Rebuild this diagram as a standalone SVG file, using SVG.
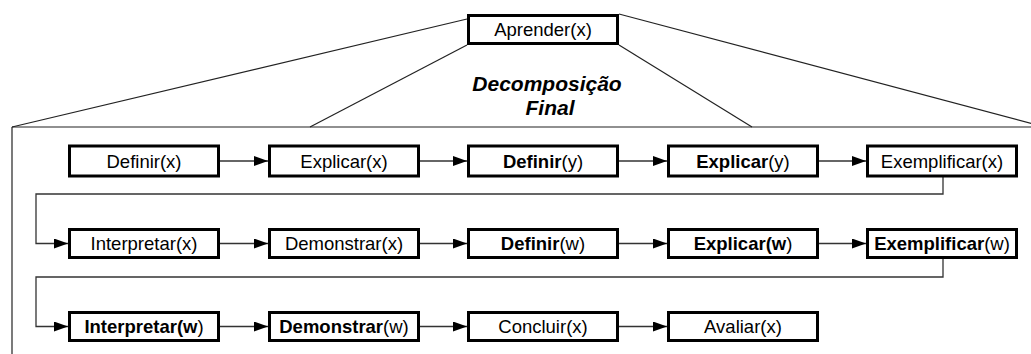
<svg xmlns="http://www.w3.org/2000/svg" width="1031" height="354" viewBox="0 0 1031 354">
  <style>
    .box { fill: #ffffff; stroke: #000000; stroke-width: 3; }
    .lbl { font-family: "Liberation Sans", Arial, sans-serif; font-size: 18.5px; fill: #000000; text-anchor: middle; }
    .b { font-weight: bold; }
    .title { font-family: "Liberation Sans", Arial, sans-serif; font-size: 21px; font-weight: bold; font-style: italic; fill: #000000; text-anchor: middle; }
    .frame { fill: none; stroke: #222222; stroke-width: 1.2; }
    .flow { fill: none; stroke: #333333; stroke-width: 1.3; }
  </style>
  <defs>
    <marker id="arrow" markerUnits="userSpaceOnUse" markerWidth="14" markerHeight="10" refX="14" refY="5" orient="auto">
      <path d="M0,0 L14,5 L0,10 z" fill="#000000"/>
    </marker>
  </defs>
  <rect width="1031" height="354" fill="#ffffff"/>

  <!-- decomposition frame -->
  <g id="frame">
    <line class="frame" x1="467" y1="19" x2="12" y2="127"/>
    <line class="frame" x1="467" y1="45" x2="310" y2="127"/>
    <line class="frame" x1="619" y1="14" x2="1045" y2="127"/>
    <line class="frame" x1="619" y1="45" x2="752" y2="127"/>
    <line class="frame" x1="12" y1="127" x2="1031" y2="127" stroke="#555555" stroke-width="1.5"/>
    <line class="frame" x1="12" y1="127" x2="12" y2="354"/>
  </g>

  <g id="caption">
    <text class="title" x="547" y="91">Decomposição</text>
    <text class="title" x="550" y="115">Final</text>
  </g>

  <!-- connectors -->
  <g id="connectors">
    <path class="flow" d="M220,161 H268" marker-end="url(#arrow)"/>
    <path class="flow" d="M419,161 H467" marker-end="url(#arrow)"/>
    <path class="flow" d="M618,161 H667" marker-end="url(#arrow)"/>
    <path class="flow" d="M818,161 H866" marker-end="url(#arrow)"/>
    <path class="flow" d="M943,177 V194 H36 V243.5 H68" marker-end="url(#arrow)"/>
    <path class="flow" d="M220,243.5 H268" marker-end="url(#arrow)"/>
    <path class="flow" d="M419,243.5 H467" marker-end="url(#arrow)"/>
    <path class="flow" d="M618,243.5 H667" marker-end="url(#arrow)"/>
    <path class="flow" d="M818,243.5 H866" marker-end="url(#arrow)"/>
    <path class="flow" d="M943,259 V277 H36 V326.5 H68" marker-end="url(#arrow)"/>
    <path class="flow" d="M220,326.5 H268" marker-end="url(#arrow)"/>
    <path class="flow" d="M419,326.5 H467" marker-end="url(#arrow)"/>
    <path class="flow" d="M618,326.5 H667" marker-end="url(#arrow)"/>
  </g>

  <!-- root task -->
  <g id="aprender">
    <rect class="box" x="468.5" y="15.5" width="149" height="28"/>
    <text class="lbl" x="543" y="36">Aprender(x)</text>
  </g>

  <!-- row 1 -->
  <g id="definir-x">
    <rect class="box" x="69.5" y="146" width="149" height="30"/>
    <text class="lbl" x="144" y="167.5">Definir(x)</text>
  </g>
  <g id="explicar-x">
    <rect class="box" x="269.5" y="146" width="149" height="30"/>
    <text class="lbl" x="344" y="167.5">Explicar(x)</text>
  </g>
  <g id="definir-y">
    <rect class="box" x="468.5" y="146" width="149" height="30"/>
    <text class="lbl" x="543" y="167.5"><tspan class="b">Definir</tspan>(y)</text>
  </g>
  <g id="explicar-y">
    <rect class="box" x="668.5" y="146" width="149" height="30"/>
    <text class="lbl" x="743" y="167.5"><tspan class="b">Explicar</tspan>(y)</text>
  </g>
  <g id="exemplificar-x">
    <rect class="box" x="867.5" y="146" width="149" height="30"/>
    <text class="lbl" x="942" y="167.5">Exemplificar(x)</text>
  </g>

  <!-- row 2 -->
  <g id="interpretar-x">
    <rect class="box" x="69.5" y="229.5" width="149" height="28"/>
    <text class="lbl" x="144" y="250">Interpretar(x)</text>
  </g>
  <g id="demonstrar-x">
    <rect class="box" x="269.5" y="229.5" width="149" height="28"/>
    <text class="lbl" x="344" y="250">Demonstrar(x)</text>
  </g>
  <g id="definir-w">
    <rect class="box" x="468.5" y="229.5" width="149" height="28"/>
    <text class="lbl" x="543" y="250"><tspan class="b">Definir</tspan>(w)</text>
  </g>
  <g id="explicar-w">
    <rect class="box" x="668.5" y="229.5" width="149" height="28"/>
    <text class="lbl" x="743" y="250"><tspan class="b">Explicar(w</tspan>)</text>
  </g>
  <g id="exemplificar-w">
    <rect class="box" x="867.5" y="229.5" width="149" height="28"/>
    <text class="lbl" x="942" y="250"><tspan class="b">Exemplificar</tspan>(w)</text>
  </g>

  <!-- row 3 -->
  <g id="interpretar-w">
    <rect class="box" x="69.5" y="312.5" width="149" height="28"/>
    <text class="lbl" x="144" y="333"><tspan class="b">Interpretar(w</tspan>)</text>
  </g>
  <g id="demonstrar-w">
    <rect class="box" x="269.5" y="312.5" width="149" height="28"/>
    <text class="lbl" x="344" y="333"><tspan class="b">Demonstrar</tspan>(w)</text>
  </g>
  <g id="concluir-x">
    <rect class="box" x="468.5" y="312.5" width="149" height="28"/>
    <text class="lbl" x="543" y="333">Concluir(x)</text>
  </g>
  <g id="avaliar-x">
    <rect class="box" x="668.5" y="312.5" width="149" height="28"/>
    <text class="lbl" x="743" y="333">Avaliar(x)</text>
  </g>
</svg>
